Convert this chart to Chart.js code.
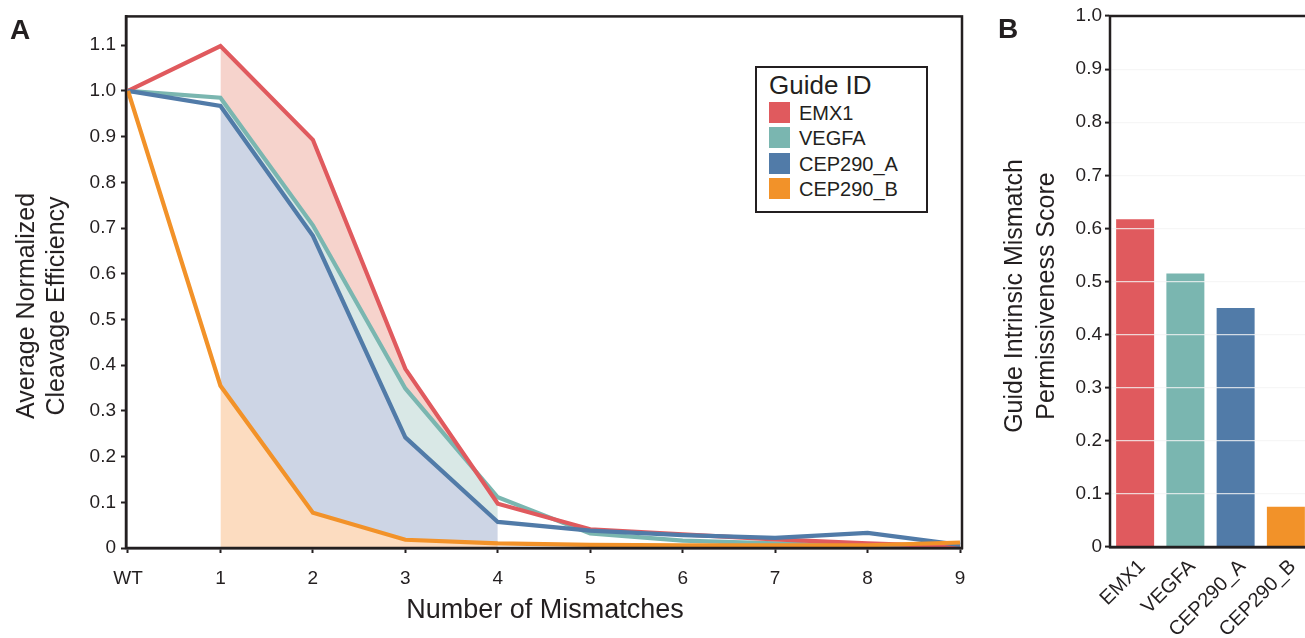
<!DOCTYPE html>
<html>
<head>
<meta charset="utf-8">
<script src="https://cdn.jsdelivr.net/npm/chart.js@4.4.1/dist/chart.umd.min.js"></script>
<style>
  html, body { margin:0; padding:0; background:#fff; overflow:hidden; }
  body { width:1305px; height:638px; position:relative; font-family:"Liberation Sans", Arial, Helvetica, sans-serif; color:#231f20; }
  #wrapA { position:absolute; left:0; top:0; width:975px; height:638px; }
  #wrapB { position:absolute; left:975px; top:0; width:330px; height:638px; overflow:hidden; }
  #innerB { position:absolute; left:-6px; top:0; width:351px; height:638px; }
  .panel { position:absolute; font-weight:bold; font-size:28px; line-height:28px; }
  .rot { position:absolute; transform:translate(-50%,-50%) rotate(-90deg); white-space:nowrap; text-align:center; font-size:25px; }
  .xt { position:absolute; transform:translateX(-50%); white-space:nowrap; font-size:27px; line-height:30px; }
  #legend { position:absolute; left:755px; top:66px; width:169px; height:143px; border:2.5px solid #231f20; background:#fff; }
  #legend .ttl { position:absolute; left:12px; top:2px; font-size:26px; line-height:30px; }
  #legend .it { position:absolute; left:12px; height:22px; font-size:20px; line-height:22px; }
  #legend .sw { display:inline-block; width:21px; height:21px; vertical-align:top; margin-right:9px; }
</style>
</head>
<body>
<div id="wrapA"><canvas id="chartA"></canvas></div>
<div id="wrapB"><div id="innerB"><canvas id="chartB"></canvas></div></div>
<div class="panel" style="left:10px;top:16px;">A</div>
<div class="panel" style="left:998px;top:15px;">B</div>
<div class="rot" style="left:40px;top:306px;line-height:30px;">Average Normalized<br>Cleavage Efficiency</div>
<div class="rot" style="left:1029px;top:296px;line-height:32px;">Guide Intrinsic Mismatch<br>Permissiveness Score</div>
<div class="xt" style="left:545px;top:594px;">Number of Mismatches</div>
<div id="legend"></div>
<script>
// ---------- data ----------
const xLabelsA = ['WT','1','2','3','4','5','6','7','8','9'];
const yTickLabelsA = ['0','0.1','0.2','0.3','0.4','0.5','0.6','0.7','0.8','0.9','1.0','1.1'];
const yTickValuesA = [0,0.1,0.2,0.3,0.4,0.5,0.6,0.7,0.8,0.9,1.0,1.1];
const guides = ['EMX1','VEGFA','CEP290_A','CEP290_B'];
const emx1    = [1.0, 1.098, 0.893, 0.392, 0.097, 0.041, 0.030, 0.019, 0.010, 0.003];
const vegfa   = [1.0, 0.985, 0.706, 0.349, 0.111, 0.032, 0.016, 0.010, 0.004, 0.002];
const cep290a = [1.0, 0.967, 0.683, 0.242, 0.057, 0.038, 0.028, 0.022, 0.033, 0.007];
const cep290b = [1.0, 0.355, 0.077, 0.018, 0.010, 0.007, 0.006, 0.006, 0.006, 0.012];
const scoresB = [0.617, 0.515, 0.450, 0.076];
const yTickValuesB = [0,0.1,0.2,0.3,0.4,0.5,0.6,0.7,0.8,0.9,1.0];
const yTickLabelsB = ['0','0.1','0.2','0.3','0.4','0.5','0.6','0.7','0.8','0.9','1.0'];
const shadeFrom = 1, shadeTo = 4;

// ---------- style ----------
const lineColors = ['#e05a5e','#7ab6b0','#517ba8','#f29229'];
const fillColors = ['#f6d3cc','#d9e8e6','#cdd5e5','#fcdcc0'];
const ink = '#231f20';
const FONT = "'Liberation Sans', Arial, Helvetica, sans-serif";
Chart.defaults.font.family = FONT;
Chart.defaults.color = ink;

const series = [emx1, vegfa, cep290a, cep290b];
const toXY = arr => arr.map((v,i) => ({x:i, y:v}));
const shadeXY = arr => arr.slice(shadeFrom, shadeTo+1).map((v,j) => ({x:j+shadeFrom, y:v}));

// legend
const lg = document.getElementById('legend');
lg.innerHTML = '<div class="ttl">Guide ID</div>' + guides.map((g,i) =>
  `<div class="it" style="top:${34 + i*25.3}px"><span class="sw" style="background:${lineColors[i]}"></span>${g}</div>`).join('');

const framePlugin = {
  id: 'frame',
  afterDraw(chart) {
    const {ctx, chartArea:a} = chart;
    ctx.save();
    ctx.strokeStyle = ink; ctx.lineWidth = 2.5;
    ctx.strokeRect(a.left, a.top, a.right - a.left, a.bottom - a.top);
    ctx.restore();
  }
};

const lineOrder = [2, 3, 1, 0];
const lineSets = guides.map((g,i) => ({
  label: g, data: toXY(series[i]), borderColor: lineColors[i], borderWidth: 4.2,
  pointRadius: 0, fill: false, tension: 0, order: lineOrder[i]
}));
const fillSets = guides.map((g,i) => ({
  label: g + ' band', data: shadeXY(series[i]), borderWidth: 0, borderColor: 'rgba(0,0,0,0)',
  backgroundColor: fillColors[i], pointRadius: 0,
  fill: i < guides.length - 1 ? {target: guides.length + i + 1} : 'origin', order: 10
}));

new Chart(document.getElementById('chartA'), {
  type: 'line',
  data: { datasets: [...lineSets, ...fillSets] },
  plugins: [framePlugin],
  options: {
    responsive: true, maintainAspectRatio: false, animation: false,
    layout: { padding: { left: 0, right: 13, top: 16, bottom: 0 } },
    plugins: { legend: { display: false }, tooltip: { enabled: false } },
    scales: {
      x: {
        type: 'linear', min: -0.0216, max: 9.0216,
        afterBuildTicks: s => { s.ticks = xLabelsA.map((_,i) => ({value:i})); },
        afterFit: s => { s.height = 90; s.paddingLeft = 0; s.paddingRight = 0; },
        ticks: { callback: (v,i) => xLabelsA[i], font: { size: 19 }, color: ink, padding: 14, maxRotation: 0 },
        grid: { drawOnChartArea: false, tickLength: 5, tickColor: ink, tickWidth: 2 },
        border: { display: true, color: ink, width: 2.5 }
      },
      y: {
        min: 0, max: 1.163,
        afterBuildTicks: s => { s.ticks = yTickValuesA.map(v => ({value:v})); },
        afterFit: s => { s.width = 126; },
        ticks: { callback: (v,i) => yTickLabelsA[i], font: { size: 19 }, color: ink, padding: 5 },
        grid: { drawOnChartArea: false, tickLength: 5, tickColor: ink, tickWidth: 2 },
        border: { display: true, color: ink, width: 2.5 }
      }
    }
  }
});

new Chart(document.getElementById('chartB'), {
  type: 'bar',
  data: { labels: guides, datasets: [{ label: 'score', data: scoresB, backgroundColor: lineColors,
    borderWidth: 0, categoryPercentage: 1.0, barPercentage: 0.756 }] },
  plugins: [framePlugin],
  options: {
    responsive: true, maintainAspectRatio: false, animation: false,
    layout: { padding: { left: 0, right: 9, top: 16, bottom: 0 } },
    plugins: { legend: { display: false }, tooltip: { enabled: false } },
    scales: {
      x: {
        afterFit: s => { s.height = 91; s.paddingLeft = 0; s.paddingRight = 0; },
        ticks: { font: { size: 20 }, color: ink, minRotation: 45, maxRotation: 45, padding: 0, labelOffset: 7 },
        grid: { display: false },
        border: { display: true, color: ink, width: 2.5 }
      },
      y: {
        min: 0, max: 1.0,
        afterBuildTicks: s => { s.ticks = yTickValuesB.map(v => ({value:v})); },
        afterFit: s => { s.width = 141; },
        ticks: { callback: (v,i) => yTickLabelsB[i], font: { size: 19 }, color: ink, padding: 3 },
        grid: { z: 1, color: 'rgba(244,244,244,0.8)', lineWidth: 1.2, tickLength: 5, tickColor: ink, tickWidth: 2 },
        border: { display: true, color: ink, width: 2.5 }
      }
    }
  }
});
</script>
</body>
</html>
